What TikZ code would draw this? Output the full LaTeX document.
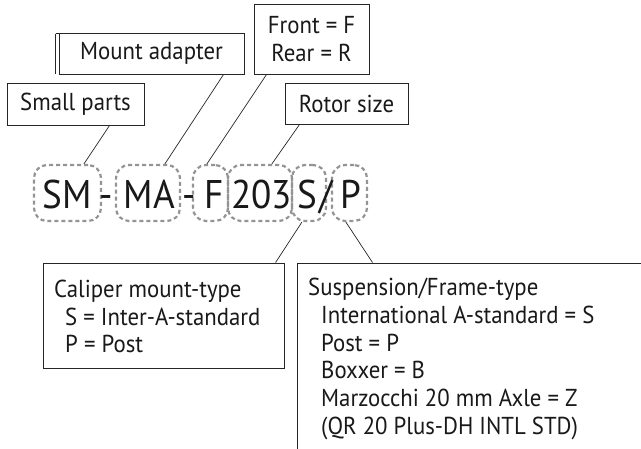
\documentclass[tikz,border=0pt]{standalone}
\usepackage{fontspec}
\setmainfont{PT Sans}[FakeStretch=0.93]
\usetikzlibrary{calc}
\begin{document}
\begin{tikzpicture}[x=1pt,y=-1pt,
  box/.style={draw=black!85, line width=0.9pt, inner sep=0pt},
  lbl/.style={font=\fontsize{24.5}{28}\selectfont, inner sep=0pt, text=black!90},
  big/.style={font=\fontsize{40}{42}\selectfont, inner sep=0pt, anchor=base, text=black!90},
  dbox/.style={draw=black!42, line width=2.2pt, dash pattern=on 4pt off 3pt, rounded corners=13pt, inner sep=0pt, minimum height=56pt},
  conn/.style={draw=black!85, line width=0.7pt}]
\useasboundingbox (0,0) rectangle (641,448);
\fill[white] (0,0) rectangle (641,448);

% top label boxes
\node[box, minimum width=137pt, minimum height=42pt] (sp) at (75.5,104) {};
\node[lbl] at (sp.center) {Small parts};
\draw[box] (55.5,33.5) -- (59,33.5) (55.5,33.5) -- (55.5,73.5);
\node[box, minimum width=185pt, minimum height=41pt] (ma) at (151.5,53.5) {};
\node[lbl] at (ma.center) {Mount adapter};
\node[box, minimum width=115pt, minimum height=70pt] (fr) at (311.5,39) {};
\node[lbl, align=center] at (fr.center) {Front = F\\Rear = R};
\node[box, minimum width=123pt, minimum height=41pt] (rs) at (346.5,103.5) {};
\node[lbl] at (rs.center) {Rotor size};

% dashed groups
\node[dbox, minimum width=67pt] (gsm) at (67.5,193) {};
\node[dbox, minimum width=64pt] (gma) at (148,193) {};
\node[dbox, minimum width=35pt] (gf) at (210.5,193) {};
\node[dbox, minimum width=64pt] (g203) at (260,193) {};
\node[dbox, minimum width=34pt] (gs) at (309,193) {};
\node[dbox, minimum width=35pt] (gp) at (349.5,193) {};

% code text
\node[big] (tsm) at (67,208) {SM};
\node[big] (th1) at (106,208) {-};
\node[big] (tma) at (149.5,208) {MA};
\node[big] (th2) at (189.5,208) {-};
\node[big] (tf) at (214,208) {F};
\node[big] (t203) at (261.5,208) {203};
\node[big] (ts) at (307.5,208) {S};
\node[big] (tsl) at (326,208) {/};
\node[big] (tp) at (350.5,208) {P};

% bottom boxes
\node[box, minimum width=241pt, minimum height=105pt] (cal) at (163.5,315.5) {};
\node[lbl, anchor=base west] at (54,297) {Caliper mount-type};
\node[lbl, anchor=base west] at (65,325) {S = Inter-A-standard};
\node[lbl, anchor=base west] at (65,352) {P = Post};

\node[box, minimum width=363pt, minimum height=207pt] (sus) at (478.5,366.5) {};
\node[lbl, anchor=base west] at (308,295) {Suspension/Frame-type};
\node[lbl, anchor=base west] at (321,323) {International A-standard = S};
\node[lbl, anchor=base west] at (321,351) {Post = P};
\node[lbl, anchor=base west] at (321,378) {Boxxer = B};
\node[lbl, anchor=base west] at (321,406) {Marzocchi 20 mm Axle = Z};
\node[lbl, anchor=base west] at (321,434) {(QR 20 Plus-DH INTL STD)};

% connectors
\draw[conn] ($(sp.south west)+(103pt,0)$) -- ($(gsm.north west)+(51pt,0)$);
\draw[conn] ($(ma.south west)+(165pt,0)$) -- ($(gma.north west)+(50pt,0)$);
\draw[conn] ($(fr.south west)+(13pt,0)$) -- ($(gf.north west)+(15pt,0)$);
\draw[conn] ($(rs.south west)+(15pt,0)$) -- ($(g203.north west)+(45pt,0)$);
\draw[conn] ($(gs.south west)+(11pt,0)$) -- ($(cal.north west)+(233pt,0)$);
\draw[conn] ($(gp.south west)+(15pt,0)$) -- ($(sus.north west)+(76pt,0)$);
\end{tikzpicture}
\end{document}
